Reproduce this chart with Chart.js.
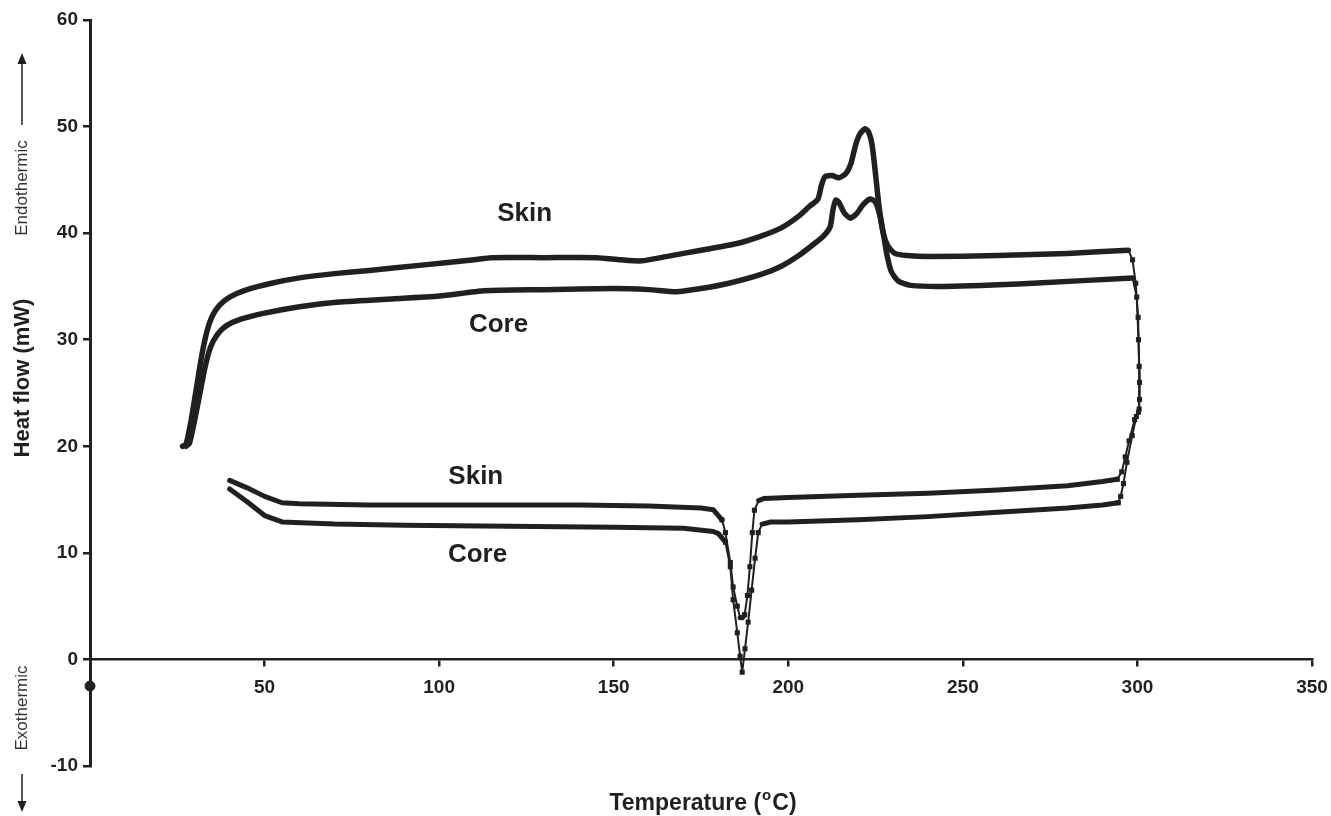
<!DOCTYPE html>
<html>
<head>
<meta charset="utf-8">
<script src="https://cdn.jsdelivr.net/npm/chart.js@4"></script>
<style>
  html, body { margin: 0; padding: 0; background: #fff; }
  #wrap { width: 1331px; height: 816px; position: relative; }
</style>
</head>
<body>
<div id="wrap"><canvas id="dsc"></canvas></div>
<script>
// heating scans (temperature in °C, heat flow in mW)
const skinHeatT = [26.5, 27.5, 29, 30.5, 32, 33.5, 35, 37, 40, 45, 52, 60, 70, 80, 95, 110, 115, 130, 145, 152, 158, 165, 175, 185, 192, 198, 203, 206, 208.5, 209.5, 210.5, 212.5, 214.5, 216.5, 218, 219.3, 220.5, 222, 223, 224, 225, 226, 227.2, 228.5, 230.5, 234, 240, 260, 280, 297.4];
const skinHeatH = [20.0, 20.2, 22.5, 25.5, 28.5, 30.8, 32.2, 33.2, 34.0, 34.7, 35.3, 35.8, 36.2, 36.5, 37.0, 37.5, 37.7, 37.7, 37.7, 37.5, 37.4, 37.8, 38.4, 39.0, 39.7, 40.5, 41.6, 42.5, 43.2, 44.5, 45.3, 45.4, 45.2, 45.6, 46.6, 48.3, 49.3, 49.8, 49.5, 48.3, 45.5, 42.5, 40.0, 38.8, 38.1, 37.9, 37.8, 37.9, 38.1, 38.4];

const coreHeatT = [27.5, 28.5, 30, 31.5, 33, 34.5, 36.5, 39, 43, 50, 60, 70, 85, 100, 113, 130, 150, 160, 168, 175, 183, 192, 198, 203, 207, 210, 212, 212.8, 213.6, 214.5, 216, 217.8, 219.5, 221.5, 223.5, 225, 226.2, 227.2, 228.3, 229.5, 231.5, 235, 245, 270, 298.6];
const coreHeatH = [20.0, 20.3, 22.5, 25.0, 27.5, 29.3, 30.5, 31.3, 31.9, 32.5, 33.1, 33.5, 33.8, 34.1, 34.6, 34.7, 34.8, 34.7, 34.5, 34.8, 35.3, 36.1, 36.9, 37.9, 38.9, 39.7, 40.6, 42.2, 43.1, 42.9, 41.9, 41.4, 41.8, 42.7, 43.2, 42.9, 41.7, 40.0, 37.9, 36.4, 35.5, 35.1, 35.0, 35.3, 35.8];

// cooling scans, recorded from 300 °C downwards
const skinCoolT = [297.4, 298.6, 299.5, 300.2, 300.5, 300.6, 300.3, 299.2, 297.6, 296.5, 295.5, 294.2, 290, 280, 260, 240, 220, 200, 193, 191.5, 190.3, 189.7, 189, 188.3, 187.5, 186.8, 186.2, 185.4, 184.2, 183.4, 182, 181, 178.5, 175, 160, 140, 120, 100, 80, 60, 55, 50, 45, 40];
const skinCoolH = [38.4, 37.5, 35.3, 32.1, 27.5, 24.4, 23.2, 22.5, 20.5, 19.0, 17.6, 16.9, 16.7, 16.3, 15.9, 15.6, 15.4, 15.2, 15.1, 14.9, 14.0, 11.9, 8.7, 6.0, 4.2, 3.9, 3.9, 5.0, 6.8, 9.1, 11.9, 13.1, 14.05, 14.2, 14.4, 14.5, 14.5, 14.5, 14.5, 14.6, 14.7, 15.3, 16.1, 16.8];

const coreCoolT = [298.6, 299.8, 300.3, 300.6, 300.5, 299.7, 298.5, 297, 296, 295.2, 294.5, 290, 280, 260, 240, 220, 200, 195, 192.5, 191.4, 190.5, 189.5, 188.5, 187.6, 186.8, 186.2, 185.4, 184.2, 183.4, 182, 180, 178.5, 170, 150, 120, 90, 70, 55, 50, 45, 40];
const coreCoolH = [35.8, 34.0, 30.0, 26.0, 23.5, 22.8, 21.0, 18.5, 16.5, 15.3, 14.7, 14.5, 14.2, 13.8, 13.4, 13.1, 12.9, 12.9, 12.7, 11.9, 9.5, 6.5, 3.5, 1.0, -1.2, 0.3, 2.5, 5.6, 8.7, 11.0, 11.8, 12.0, 12.3, 12.4, 12.5, 12.6, 12.7, 12.9, 13.5, 14.8, 16.0];

// stray marker sitting on the y axis
const axisDotT = [0];
const axisDotH = [-2.5];

// curve labels, placed in data units
const curveLabels = ['Skin', 'Core', 'Skin', 'Core'];
const curveLabelT = [124.5, 117, 110.5, 111];
const curveLabelH = [41.8, 31.4, 17.1, 9.8];

const xTicks = [0, 50, 100, 150, 200, 250, 300, 350];
const yTicks = [-10, 0, 10, 20, 30, 40, 50, 60];

const INK = '#231f20';
const FONT = '"Liberation Sans", Arial, sans-serif';

function pts(ts, hs) {
	return ts.map((t, i) => ({ x: t, y: hs[i] }));
}

// a segment is "steep" when it climbs more than it runs on screen
function isSteep(a, b) {
	return Math.abs(b.y - a.y) > 1.4 * Math.abs(b.x - a.x);
}

function coolPointRadius(ctx) {
	const meta = ctx.chart.getDatasetMeta(ctx.datasetIndex);
	const els = meta.data;
	const i = ctx.dataIndex;
	const p = els[i];
	if (!p) return 0;
	const prev = els[i - 1];
	const next = els[i + 1];
	if ((prev && isSteep(prev, p)) || (next && isSteep(p, next))) return 3.6;
	return 0;
}

function heatSet(data) {
	return {
		data: data,
		showLine: true,
		borderColor: INK,
		borderWidth: 5.5,
		borderCapStyle: 'round',
		borderJoinStyle: 'round',
		pointRadius: 0,
		tension: 0.2,
	};
}

function coolSet(data) {
	return {
		data: data,
		showLine: true,
		borderColor: INK,
		backgroundColor: INK,
		borderWidth: 5,
		borderCapStyle: 'round',
		borderJoinStyle: 'round',
		pointStyle: 'rect',
		pointRadius: coolPointRadius,
		pointBorderWidth: 0,
		tension: 0,
		segment: {
			borderWidth: (ctx) => (isSteep(ctx.p0, ctx.p1) ? 2 : 5),
		},
	};
}

function vText(txt, x, y, font, color) {
	return (ctx) => {
		ctx.save();
		ctx.translate(x, y);
		ctx.rotate(-Math.PI / 2);
		ctx.textAlign = 'center';
		ctx.textBaseline = 'middle';
		ctx.font = font;
		ctx.fillStyle = color;
		ctx.fillText(txt, 0, 0);
		ctx.restore();
	};
}

const textPlugin = {
	id: 'dscText',
	afterDraw(chart) {
		const { ctx, scales } = chart;
		ctx.save();
		ctx.fillStyle = INK;
		ctx.strokeStyle = INK;
		ctx.textAlign = 'center';
		ctx.textBaseline = 'middle';

		// curve labels
		ctx.font = 'bold 26px ' + FONT;
		curveLabels.forEach((txt, i) => {
			ctx.fillText(txt, scales.x.getPixelForValue(curveLabelT[i]), scales.y.getPixelForValue(curveLabelH[i]));
		});

		// x title with a raised "o" for degrees
		const big = 'bold 23px ' + FONT;
		const small = 'bold 15px ' + FONT;
		ctx.font = big;
		const a = 'Temperature (';
		const c = 'C)';
		const wa = ctx.measureText(a).width;
		const wc = ctx.measureText(c).width;
		ctx.font = small;
		const wo = ctx.measureText('o').width;
		let x0 = 703 - (wa + wo + wc + 2) / 2;
		ctx.textAlign = 'left';
		ctx.font = big;
		ctx.fillText(a, x0, 804);
		ctx.font = small;
		ctx.fillText('o', x0 + wa + 1, 796);
		ctx.font = big;
		ctx.fillText(c, x0 + wa + wo + 2, 804);

		// y title and side notes
		vText('Heat flow (mW)', 23, 378, 'bold 22px ' + FONT, INK)(ctx);
		vText('Endothermic', 22, 188, '17px ' + FONT, '#333')(ctx);
		vText('Exothermic', 22, 708, '17px ' + FONT, '#333')(ctx);

		// arrows
		ctx.lineWidth = 1.5;
		ctx.beginPath();
		ctx.moveTo(22, 125);
		ctx.lineTo(22, 62);
		ctx.stroke();
		ctx.beginPath();
		ctx.moveTo(22, 53);
		ctx.lineTo(17.5, 64);
		ctx.lineTo(26.5, 64);
		ctx.closePath();
		ctx.fill();

		ctx.beginPath();
		ctx.moveTo(22, 774);
		ctx.lineTo(22, 804);
		ctx.stroke();
		ctx.beginPath();
		ctx.moveTo(22, 812);
		ctx.lineTo(17.5, 801);
		ctx.lineTo(26.5, 801);
		ctx.closePath();
		ctx.fill();

		ctx.restore();
	},
};

new Chart(document.getElementById('dsc'), {
	type: 'scatter',
	data: {
		datasets: [
			heatSet(pts(skinHeatT, skinHeatH)),
			heatSet(pts(coreHeatT, coreHeatH)),
			coolSet(pts(skinCoolT, skinCoolH)),
			coolSet(pts(coreCoolT, coreCoolH)),
			{
				data: pts(axisDotT, axisDotH),
				pointStyle: 'circle',
				pointRadius: 5,
				backgroundColor: INK,
				borderColor: INK,
				clip: false,
			},
		],
	},
	options: {
		responsive: true,
		maintainAspectRatio: false,
		animation: false,
		layout: { padding: { top: 20, right: 19, bottom: 50, left: 0 } },
		plugins: { legend: { display: false }, tooltip: { enabled: false } },
		scales: {
			x: {
				type: 'linear',
				position: { y: 0 },
				min: 0,
				max: 350,
				afterBuildTicks: (s) => { s.ticks = xTicks.map((v) => ({ value: v })); },
				afterFit: (s) => { s.paddingLeft = 0; s.paddingRight = 0; },
				ticks: {
					callback: (v) => (v === 0 ? '' : v),
					color: INK,
					font: { family: FONT, size: 19, weight: 'bold' },
					padding: 11,
					maxRotation: 0,
				},
				grid: { drawOnChartArea: false, drawTicks: true, tickLength: 6, color: INK, lineWidth: 2.5 },
				border: { display: true, color: INK, width: 2.5 },
			},
			y: {
				min: -10,
				max: 60,
				afterBuildTicks: (s) => { s.ticks = yTicks.map((v) => ({ value: v })); },
				afterFit: (s) => { s.width = 90; },
				ticks: {
					color: INK,
					font: { family: FONT, size: 19, weight: 'bold' },
					padding: 5,
				},
				grid: { drawOnChartArea: false, drawTicks: true, tickLength: 7, color: INK, lineWidth: 2.5 },
				border: { display: true, color: INK, width: 3 },
			},
		},
	},
	plugins: [textPlugin],
});
</script>
</body>
</html>
